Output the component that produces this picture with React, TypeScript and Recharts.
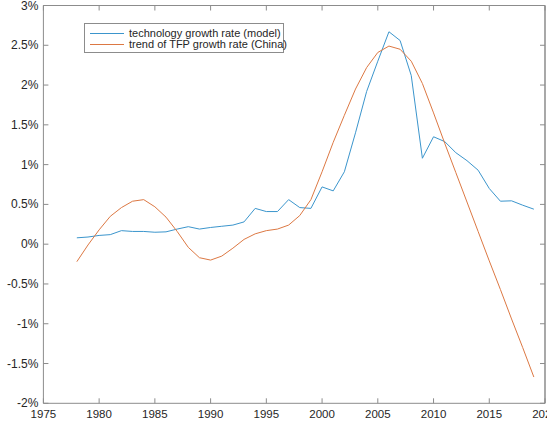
import React from "react";
import { LineChart, Line, XAxis, YAxis, Legend, ReferenceLine } from "recharts";

// Years covered by both series
const years: number[] = [
  1978, 1979, 1980, 1981, 1982, 1983, 1984, 1985, 1986, 1987, 1988, 1989, 1990, 1991,
  1992, 1993, 1994, 1995, 1996, 1997, 1998, 1999, 2000, 2001, 2002, 2003, 2004, 2005,
  2006, 2007, 2008, 2009, 2010, 2011, 2012, 2013, 2014, 2015, 2016, 2017, 2018, 2019,
];

// technology growth rate (model), percent
const techGrowth: number[] = [
  0.08, 0.09, 0.11, 0.12, 0.17, 0.16, 0.16, 0.15, 0.155, 0.19, 0.22, 0.19, 0.21, 0.225,
  0.24, 0.28, 0.45, 0.41, 0.41, 0.56, 0.46, 0.45, 0.72, 0.67, 0.91, 1.4, 1.92, 2.3,
  2.67, 2.56, 2.12, 1.08, 1.35, 1.29, 1.15, 1.05, 0.93, 0.7, 0.54, 0.545, 0.49, 0.44,
];

// trend of TFP growth rate (China), percent
const tfpTrend: number[] = [
  -0.22, -0.01, 0.18, 0.35, 0.46, 0.54, 0.56, 0.47, 0.34, 0.16, -0.04, -0.17, -0.2, -0.15,
  -0.05, 0.06, 0.13, 0.17, 0.19, 0.24, 0.36, 0.56, 0.91, 1.28, 1.62, 1.95, 2.22, 2.41,
  2.49, 2.45, 2.3, 2.02, 1.65, 1.27, 0.9, 0.53, 0.16, -0.21, -0.57, -0.94, -1.3, -1.67,
];

const xTicks: number[] = [1975, 1980, 1985, 1990, 1995, 2000, 2005, 2010, 2015, 2020];
const yTicks: number[] = [-2, -1.5, -1, -0.5, 0, 0.5, 1, 1.5, 2, 2.5, 3];
const xDomain: [number, number] = [1975, 2020];
const yDomain: [number, number] = [-2, 3];

const seriesNames = {
  tech: "technology growth rate (model)",
  tfp: "trend of TFP growth rate (China)",
};

const BLUE = "#3b95cc";
const ORANGE = "#dc7843";
const AXIS = "#8c8c8c";
const TEXT = "#262626";
const FONT = "'Liberation Sans', Arial, Helvetica, sans-serif";
const TICK_LEN = 5;

// Chart layout
const CHART_W = 547;
const CHART_H = 424;
const MARGIN = { top: 5.5, right: 2, left: 0, bottom: 0 };
const Y_AXIS_W = 43.4;
const X_AXIS_H = 20.7;
const PLOT_W = CHART_W - MARGIN.left - MARGIN.right - Y_AXIS_W;
const PLOT_H = CHART_H - MARGIN.top - MARGIN.bottom - X_AXIS_H;

const data = years.map((year, i) => ({
  year,
  tech: techGrowth[i],
  tfp: tfpTrend[i],
}));

const fmtPct = (v: number) => `${v}%`;

// Bottom axis: inward ticks on the bottom and top edges, labels below,
// and the right frame edge drawn from the last tick
const BottomTick = (props: any) => {
  const { x, y, payload } = props;
  const top = y - PLOT_H;
  return (
    <g>
      <line x1={x} x2={x} y1={y} y2={y - TICK_LEN} stroke={AXIS} strokeWidth={1} />
      <line x1={x} x2={x} y1={top} y2={top + TICK_LEN} stroke={AXIS} strokeWidth={1} />
      {payload.value === xDomain[1] && (
        <line x1={x} x2={x} y1={y} y2={top} stroke={AXIS} strokeWidth={1} />
      )}
      <text x={x} y={y + 15} textAnchor="middle" fontSize={11.5} fill={TEXT} fontFamily={FONT}>
        {payload.value}
      </text>
    </g>
  );
};

// Left axis: inward ticks on the left and right edges, labels on the left,
// and the top frame edge drawn from the highest tick
const LeftTick = (props: any) => {
  const { x, y, payload } = props;
  const right = x + PLOT_W;
  return (
    <g>
      <line x1={x} x2={x + TICK_LEN} y1={y} y2={y} stroke={AXIS} strokeWidth={1} />
      <line x1={right} x2={right - TICK_LEN} y1={y} y2={y} stroke={AXIS} strokeWidth={1} />
      {payload.value === yDomain[1] && (
        <line x1={x} x2={right} y1={y} y2={y} stroke={AXIS} strokeWidth={1} />
      )}
      <text x={x - 5} y={y + 4} textAnchor="end" fontSize={12} fill={TEXT} fontFamily={FONT}>
        {fmtPct(payload.value)}
      </text>
    </g>
  );
};

const LegendBox = () => (
  <div
    style={{
      border: `1px solid ${AXIS}`,
      background: "#fff",
      width: 198,
      height: 28,
      boxSizing: "content-box",
      fontFamily: FONT,
      fontSize: 11,
      color: TEXT,
      lineHeight: "11px",
      padding: 0,
      position: "relative",
    }}
  >
    {[
      { name: seriesNames.tech, color: BLUE, top: 4 },
      { name: seriesNames.tfp, color: ORANGE, top: 15 },
    ].map((row) => (
      <div
        key={row.name}
        style={{ position: "absolute", left: 5, top: row.top, display: "flex", alignItems: "center", whiteSpace: "nowrap" }}
      >
        <svg width={34} height={11} style={{ display: "block" }}>
          <line x1={0} x2={34} y1={5.5} y2={5.5} stroke={row.color} strokeWidth={1} />
        </svg>
        <span style={{ marginLeft: 5 }}>{row.name}</span>
      </div>
    ))}
  </div>
);

export default function App() {
  return (
    <div style={{ position: "absolute", left: 0, top: 0, width: CHART_W, height: CHART_H, background: "#fff" }}>
      <LineChart width={CHART_W} height={CHART_H} data={data} margin={MARGIN}>
        <XAxis
          dataKey="year"
          type="number"
          domain={xDomain}
          ticks={xTicks}
          interval={0}
          height={X_AXIS_H}
          tickSize={0}
          tickMargin={0}
          tickLine={false}
          axisLine={{ stroke: AXIS }}
          tick={<BottomTick />}
          allowDataOverflow
        />
        <YAxis
          type="number"
          domain={yDomain}
          ticks={yTicks}
          interval={0}
          width={Y_AXIS_W}
          tickSize={0}
          tickMargin={0}
          tickLine={false}
          axisLine={{ stroke: AXIS }}
          tick={<LeftTick />}
          allowDataOverflow
        />
        {/* frame edges just inside the domain bounds */}
        <ReferenceLine y={yDomain[1] - 1e-4} stroke={AXIS} strokeWidth={1} ifOverflow="visible" />
        <ReferenceLine x={xDomain[1] - 1e-4} stroke={AXIS} strokeWidth={1} ifOverflow="visible" />
        <Legend
          layout="vertical"
          align="center"
          verticalAlign="middle"
          wrapperStyle={{ left: 84, top: 23, width: "auto" }}
          content={<LegendBox />}
        />
        <Line
          type="linear"
          dataKey="tech"
          name={seriesNames.tech}
          stroke={BLUE}
          strokeWidth={1}
          dot={false}
          isAnimationActive={false}
        />
        <Line
          type="linear"
          dataKey="tfp"
          name={seriesNames.tfp}
          stroke={ORANGE}
          strokeWidth={1}
          dot={false}
          isAnimationActive={false}
        />
      </LineChart>
    </div>
  );
}
